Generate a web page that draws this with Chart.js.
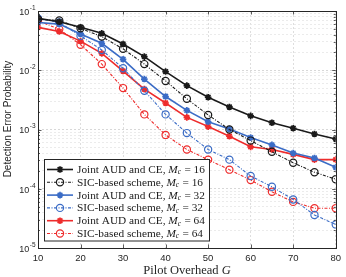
<!DOCTYPE html>
<html>
<head>
<meta charset="utf-8">
<script src="https://cdn.jsdelivr.net/npm/chart.js@4"></script>
<style>
  html, body { margin: 0; padding: 0; background: #fff; }
  #wrap { width: 346px; height: 277px; }
</style>
</head>
<body>
<div id="wrap"><canvas id="pepChart" width="346" height="277"></canvas></div>
<script>
const pilotG = [10, 15, 20, 25, 30, 35, 40, 45, 50, 55, 60, 65, 70, 75, 80];

const jointM16 = [0.075, 0.066, 0.053, 0.042, 0.0277, 0.017, 0.0095, 0.0055, 0.0035, 0.0024, 0.0017, 0.0013, 0.00105, 0.00084, 0.00069];
const sicM16   = [0.073, 0.069, 0.051, 0.037, 0.023, 0.0127, 0.0066, 0.0033, 0.00176, 0.001, 0.00065, 0.00042, 0.000275, 0.00019, 0.000145];
const jointM32 = [0.064, 0.060, 0.041, 0.0285, 0.0153, 0.0071, 0.0036, 0.0021, 0.00135, 0.00102, 0.00073, 0.00055, 0.0004, 0.00033, 0.00023];
const sicM32   = [0.075, 0.064, 0.038, 0.022, 0.0108, 0.0045, 0.0018, 0.00087, 0.00046, 0.00031, 0.000164, 0.000108, 0.000066, 0.000036, 0.000025];
const jointM64 = [0.053, 0.045, 0.031, 0.0193, 0.0097, 0.0048, 0.0028, 0.0016, 0.00112, 0.00077, 0.00051, 0.00046, 0.00038, 0.00031, 0.00031];
const sicM64   = [0.069, 0.049, 0.027, 0.0127, 0.005, 0.0018, 0.00081, 0.00046, 0.00031, 0.00021, 0.00014, 0.000089, 0.00006, 0.000047, 0.000047];

const seriesNames = [
  ['Joint AUD and CE, ', '16'],
  ['SIC-based scheme, ', '16'],
  ['Joint AUD and CE, ', '32'],
  ['SIC-based scheme, ', '32'],
  ['Joint AUD and CE, ', '64'],
  ['SIC-based scheme, ', '64']
];

const xTicks = [10, 20, 30, 40, 50, 60, 70, 80];
const yDecades = [-5, -4, -3, -2, -1];

const black = '#1a1a1a';
const blue = '#3b6cc6';
const red = '#ee2c2c';

function pts(vals) {
  return vals.map((v, i) => ({ x: pilotG[i], y: v }));
}

function joint(vals, color) {
  return {
    data: pts(vals),
    borderColor: color,
    backgroundColor: color,
    borderWidth: 1.6,
    pointStyle: 'star',
    pointRadius: 3.3,
    pointBorderWidth: 1.7,
    pointBorderColor: color,
    pointBackgroundColor: color,
    tension: 0
  };
}

function sic(vals, color) {
  return {
    data: pts(vals),
    borderColor: color,
    backgroundColor: 'rgba(0,0,0,0)',
    borderWidth: 1.1,
    borderDash: [3, 1.5, 1, 1.5],
    pointStyle: 'circle',
    pointRadius: 3.6,
    pointBorderWidth: 1.2,
    pointBorderColor: color,
    pointBackgroundColor: 'rgba(0,0,0,0)',
    tension: 0
  };
}

const datasets = [
  joint(jointM16, black),
  sic(sicM16, black),
  joint(jointM32, blue),
  sic(sicM32, blue),
  joint(jointM64, red),
  sic(sicM64, red)
];

const sans = "'Liberation Sans', Arial, sans-serif";
const serif = "'Liberation Serif', 'Times New Roman', serif";

function isDecade(v) {
  const l = Math.log10(v);
  return Math.abs(l - Math.round(l)) < 1e-9;
}

// box, inward ticks, y labels with exponents, axis titles, legend
const decorations = {
  id: 'decorations',
  afterDraw(chart) {
    const ctx = chart.ctx;
    const a = chart.chartArea;
    const xs = chart.scales.x;
    const ys = chart.scales.y;
    ctx.save();

    // inward ticks
    ctx.strokeStyle = '#333';
    ctx.lineWidth = 0.8;
    ctx.beginPath();
    ys.ticks.forEach(t => {
      const y = Math.round(ys.getPixelForValue(t.value)) + 0.5;
      const len = isDecade(t.value) ? 3.5 : 2;
      ctx.moveTo(a.left, y); ctx.lineTo(a.left + len, y);
      ctx.moveTo(a.right, y); ctx.lineTo(a.right - len, y);
    });
    xs.ticks.forEach(t => {
      const x = Math.round(xs.getPixelForValue(t.value)) + 0.5;
      ctx.moveTo(x, a.bottom); ctx.lineTo(x, a.bottom - 3.5);
      ctx.moveTo(x, a.top); ctx.lineTo(x, a.top + 3.5);
    });
    ctx.stroke();

    // box
    ctx.strokeStyle = '#262626';
    ctx.lineWidth = 1;
    ctx.strokeRect(Math.round(a.left) + 0.5, Math.round(a.top) + 0.5,
      Math.round(a.right - a.left), Math.round(a.bottom - a.top));

    // y tick labels 10^e
    ctx.fillStyle = '#262626';
    ctx.textBaseline = 'middle';
    yDecades.forEach(e => {
      const y = ys.getPixelForValue(Math.pow(10, e));
      const exp = '-' + Math.abs(e);
      ctx.font = '6.5px ' + sans;
      const ew = ctx.measureText(exp).width;
      ctx.textAlign = 'right';
      ctx.fillText(exp, a.left - 2.5, y - 3);
      ctx.font = '9px ' + sans;
      ctx.fillText('10', a.left - 3 - ew, y + 1.5);
    });

    // y title
    ctx.save();
    ctx.translate(8.5, 119);
    ctx.rotate(-Math.PI / 2);
    ctx.textAlign = 'center';
    ctx.textBaseline = 'middle';
    ctx.font = '10px ' + sans;
    ctx.fillText('Detection Error Probability', 0, 0);
    ctx.restore();

    // x title with italic G
    ctx.textBaseline = 'alphabetic';
    ctx.textAlign = 'left';
    ctx.font = '12.5px ' + serif;
    const t1 = 'Pilot Overhead ';
    const w1 = ctx.measureText(t1).width;
    ctx.font = 'italic 12.5px ' + serif;
    const w2 = ctx.measureText('G').width;
    const x0 = 187 - (w1 + w2) / 2;
    ctx.font = '12.5px ' + serif;
    ctx.fillText(t1, x0, 273.5);
    ctx.font = 'italic 12.5px ' + serif;
    ctx.fillText('G', x0 + w1, 273.5);

    // legend
    const lx = 44.5, ly = 159.5, lw = 165, lh = 81.5;
    ctx.fillStyle = '#fff';
    ctx.fillRect(lx, ly, lw, lh);
    ctx.strokeStyle = '#262626';
    ctx.lineWidth = 1;
    ctx.strokeRect(lx, ly, lw, lh);
    chart.data.datasets.forEach((ds, i) => {
      const y = 169.5 + i * 12.8;
      ctx.save();
      ctx.strokeStyle = ds.borderColor;
      ctx.lineWidth = ds.borderWidth;
      ctx.setLineDash(ds.borderDash || []);
      ctx.beginPath();
      ctx.moveTo(47, y); ctx.lineTo(73, y);
      ctx.stroke();
      ctx.setLineDash([]);
      ctx.strokeStyle = ds.pointBorderColor;
      ctx.fillStyle = ds.pointBackgroundColor;
      ctx.lineWidth = ds.pointBorderWidth;
      Chart.helpers.drawPoint(ctx, {
        pointStyle: ds.pointStyle,
        radius: ds.pointRadius,
        borderWidth: ds.pointBorderWidth,
        rotation: 0
      }, 60, y);
      ctx.restore();

      ctx.fillStyle = '#1a1a1a';
      ctx.textBaseline = 'middle';
      ctx.textAlign = 'left';
      let x = 77;
      ctx.font = '11.3px ' + serif;
      ctx.fillText(seriesNames[i][0], x, y + 0.5);
      x += ctx.measureText(seriesNames[i][0]).width;
      ctx.font = 'italic 11.3px ' + serif;
      ctx.fillText('M', x, y + 0.5);
      x += ctx.measureText('M').width;
      ctx.font = 'italic 7.5px ' + serif;
      ctx.fillText('c', x, y + 3);
      x += ctx.measureText('c').width + 0.5;
      ctx.font = '11.3px ' + serif;
      ctx.fillText(' = ' + seriesNames[i][1], x, y + 0.5);
    });

    ctx.restore();
  }
};

const ctx = document.getElementById('pepChart').getContext('2d');

new Chart(ctx, {
  type: 'line',
  data: { datasets },
  options: {
    responsive: false,
    animation: false,
    layout: { padding: { top: 11, right: 7, left: 0, bottom: 0 } },
    plugins: {
      legend: { display: false },
      tooltip: { enabled: false }
    },
    scales: {
      x: {
        type: 'linear',
        min: 10,
        max: 80,
        afterBuildTicks: s => { s.ticks = xTicks.map(v => ({ value: v })); },
        afterFit: s => { s.height = 29; },
        ticks: {
          color: '#262626',
          font: { family: sans, size: 9.5 },
          padding: 5,
          maxRotation: 0
        },
        grid: {
          color: '#d6d6d6',
          lineWidth: 0.8,
          drawTicks: false
        },
        border: { display: false, dash: [2, 2] }
      },
      y: {
        type: 'logarithmic',
        min: 1e-5,
        max: 1e-1,
        afterBuildTicks: s => {
          const t = [];
          for (let e = -5; e < -1; e++) {
            for (let m = 1; m < 10; m++) t.push({ value: m * Math.pow(10, e) });
          }
          t.push({ value: 0.1 });
          s.ticks = t;
        },
        afterFit: s => { s.width = 38; },
        ticks: { display: false },
        grid: {
          color: c => (c.tick && isDecade(c.tick.value)) ? '#cfcfcf' : '#e6e6e6',
          lineWidth: 0.8,
          drawTicks: false
        },
        border: { display: false, dash: [2, 2] }
      }
    }
  },
  plugins: [decorations]
});
</script>
</body>
</html>
